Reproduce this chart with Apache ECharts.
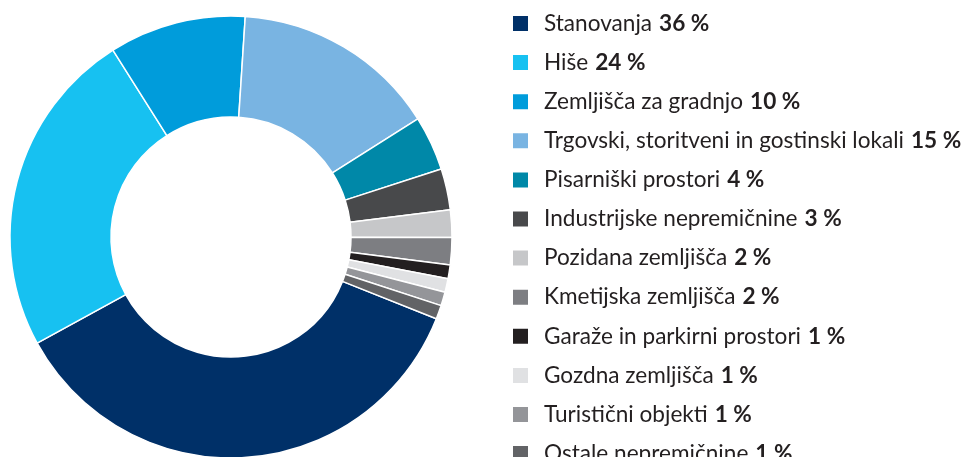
<!DOCTYPE html>
<html>
<head>
<meta charset="utf-8">
<script src="https://cdn.jsdelivr.net/npm/echarts@6/dist/echarts.min.js"></script>
<style>
  html, body { margin: 0; padding: 0; background: #fff; }
  #main { width: 964px; height: 457px; }
</style>
</head>
<body>
<div id="main"></div>
<script>
var names = ['Stanovanja', 'Hiše', 'Zemljišča za gradnjo', 'Trgovski, storitveni in gostinski lokali',
    'Pisarniški prostori', 'Industrijske nepremičnine', 'Pozidana zemljišča', 'Kmetijska zemljišča',
    'Garaže in parkirni prostori', 'Gozdna zemljišča', 'Turistični objekti', 'Ostale nepremičnine'];
var values = [36, 24, 10, 15, 4, 3, 2, 2, 1, 1, 1, 1];
var colors = ['#003068', '#17c1f1', '#009cdb', '#79b4e2', '#0088a8', '#48494b',
    '#c6c7c9', '#7d7e82', '#231f20', '#e0e1e3', '#949599', '#626366'];

var myChart = echarts.init(document.getElementById('main'));
var data = names.map(function (n, i) {
    return { name: n, value: values[i], itemStyle: { color: colors[i] } };
});
var lookup = {};
names.forEach(function (n, i) { lookup[n] = values[i]; });

var option = {
    animation: false,
    legend: {
        orient: 'vertical',
        left: 511,
        top: 12,
        height: 600,
        padding: 0,
        icon: 'rect',
        itemWidth: 17,
        itemHeight: 17,
        itemGap: 16.1,
        selectedMode: false,
        formatter: function (name) {
            return '{n|' + name + '}{b|' + lookup[name] + ' %}';
        },
        textStyle: {
            padding: [0, 0, 0, 10],
            rich: {
                n: { fontFamily: 'Lato', fontSize: 22.6, lineHeight: 22, color: '#231f20' },
                b: { fontFamily: 'Lato', fontSize: 22.6, lineHeight: 22, fontWeight: 'bold', color: '#231f20', padding: [0, 0, 0, 7] }
            }
        },
        data: names
    },
    series: [{
        type: 'pie',
        center: [231, 237],
        radius: [120, 221],
        startAngle: 338.3,
        clockwise: true,
        silent: true,
        label: { show: false },
        labelLine: { show: false },
        itemStyle: { borderColor: '#fff', borderWidth: 1.5 },
        data: data
    }]
};
myChart.setOption(option);
</script>
</body>
</html>
